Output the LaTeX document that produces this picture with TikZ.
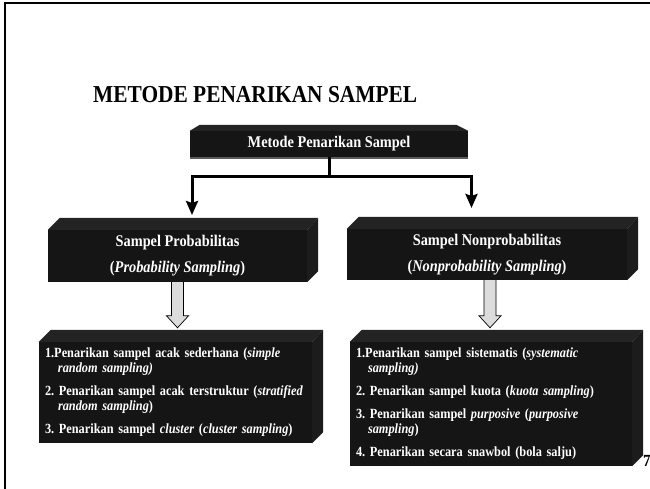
\documentclass[tikz,border=0pt]{standalone}
\usepackage{fontspec}
\setmainfont{Liberation Serif}[FakeStretch=0.88]
\usepackage{tikz}
\usetikzlibrary{positioning,arrows.meta,calc}
\definecolor{ink}     {HTML}{151515}
\definecolor{inktop}  {HTML}{232323}
\definecolor{inkside} {HTML}{1C1C1C}
\definecolor{rim}     {HTML}{5A5A5A}
\definecolor{shade}   {HTML}{DCDCDC}
\tikzset{
  % --- nodes
  box/.style     = {fill=ink, text=white, inner sep=0pt, align=center,
                    font=\bfseries\fontsize{16.3}{26}\selectfont},
  listbox/.style = {box, align=left, inner xsep=6pt,
                    font=\bfseries\fontsize{14}{15}\selectfont},
  topface/.style = {fill=inktop},
  sideface/.style= {fill=inkside},
  % --- edges
  conn/.style    = {line width=3pt, draw=black},
  hollow/.style  = {fill=shade, draw=black, line width=0.7pt},
}
% top and side faces of a box
\newcommand\boxfaces[1]{%
  \fill[topface] (#1.north west) -- ++(12,-12) -- ([shift={(11,-12)}]#1.north east)
    -- (#1.north east) -- cycle;
  \fill[sideface] (#1.north east) -- ++(11,-12) -- ([shift={(11,-11)}]#1.south east)
    -- (#1.south east) -- cycle;
}
% grey block arrow from box #1 down to box #2, x offset #3
\newcommand\blockarrow[3]{%
  \draw[hollow] ($(#1.south)+(#3-6,0)$) -- ($(#1.south |- #2.north)+(#3-6,-26)$)
    -- ++(-5,0) -- ($(#1.south |- #2.north)+(#3,-14)$)
    -- ($(#1.south |- #2.north)+(#3+11,-26)$) -- ++(-5,0) -- ($(#1.south)+(#3+6,0)$);
}
\begin{document}
\begin{tikzpicture}[x=1pt,y=-1pt]
  \useasboundingbox (0,0) rectangle (650,488);
  \draw[line width=2.5pt] (5,492) -- (5,3) -- (655,3);

  \node[anchor=west, inner sep=0pt, font=\bfseries\fontsize{24.3}{28}\selectfont]
    (title) at (93,95) {METODE PENARIKAN SAMPEL};

  \node[box, minimum width=278, minimum height=26] (top) at (329,144) {Metode Penarikan Sampel};
  \fill[topface] (top.north west) -- ++(10,-6) -- ([shift={(-12,-6)}]top.north east)
    -- (top.north east) -- cycle;
  \draw[rim, line width=1.5pt] ([yshift=-0.75pt]top.south west) -- ([yshift=-0.75pt]top.south east);

  \node[box, minimum width=259, minimum height=52] (pl) at (177.5,256)
    {Sampel Probabilitas\\(\textit{Probability Sampling})};
  \node[box, minimum width=280, minimum height=51] (pn) at (487,254.5)
    {Sampel Nonprobabilitas\\(\textit{Nonprobability Sampling})};
  \boxfaces{pl}
  \boxfaces{pn}

  \node[listbox, text width=261, minimum height=101] (ll) at (175.5,392.5) {%
    1.Penarikan sampel acak sederhana (\textit{simple}\\
    \hspace*{13pt}\textit{random sampling)}\\[8pt]
    2.\ Penarikan sampel acak terstruktur (\textit{stratified}\\
    \hspace*{13pt}\textit{random sampling})\\[8pt]
    3.\ Penarikan sampel \textit{cluster} (\textit{cluster sampling})};
  \node[listbox, text width=270, minimum height=124] (lr) at (491,404) {%
    1.Penarikan sampel sistematis (\textit{systematic}\\
    \hspace*{12pt}\textit{sampling)}\\[8pt]
    2.\ Penarikan sampel kuota (\textit{kuota sampling})\\[8pt]
    3.\ Penarikan sampel \textit{purposive} (\textit{purposive}\\
    \hspace*{12pt}\textit{sampling})\\[8pt]
    4.\ Penarikan secara snawbol (bola salju)};
  \boxfaces{ll}
  \boxfaces{lr}

  % connectors
  \coordinate (bar) at (0,176);
  \coordinate (ltip) at (192,215);
  \coordinate (rtip) at (471.5,208);
  \draw[conn] (top.south) -- (top.south |- bar);
  \draw[conn, {Stealth[length=14pt,width=12pt,inset=2pt]}-{Stealth[length=14pt,width=12pt,inset=2pt]}]
    (ltip) |- (top.south |- bar) -| (rtip);
  \blockarrow{pl}{ll}{0}
  \blockarrow{pn}{lr}{3}

  \node[anchor=west, inner sep=0pt, font=\bfseries\fontsize{17}{17}\selectfont] (pageno) at (643,461) {7};
\end{tikzpicture}
\end{document}
